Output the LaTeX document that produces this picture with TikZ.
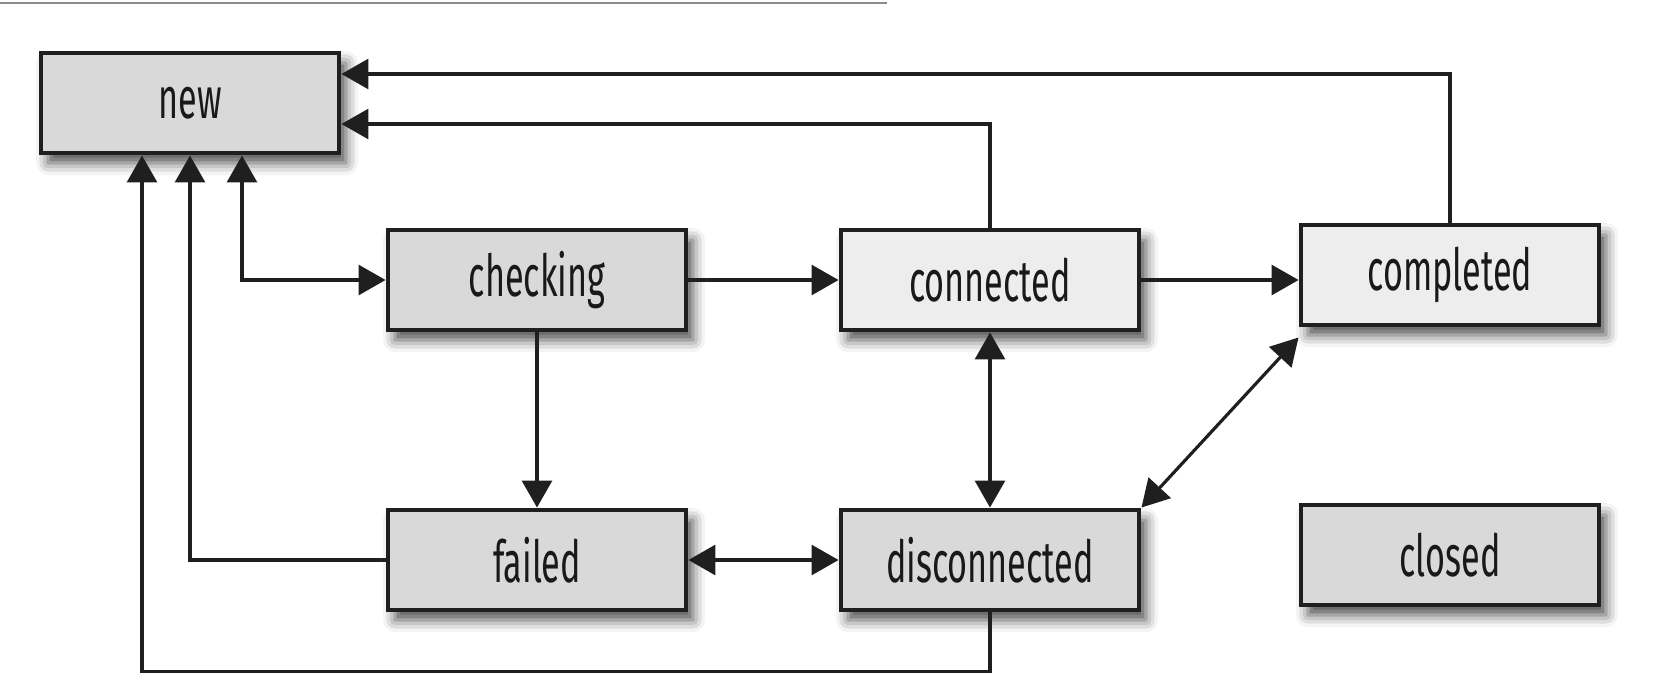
\documentclass[tikz,border=0pt]{standalone}
\usepackage{fontspec}
\setmainfont[FakeStretch=0.59]{Fira Sans}
\usetikzlibrary{arrows.meta,shadows.blur}
\begin{document}
\begin{tikzpicture}[
    state/.style={draw=black!88, line width=1.4pt, fill=#1, minimum width=2.98cm, minimum height=1cm,
        text=black!90, font=\fontsize{16.5}{20}\selectfont,
        blur shadow={shadow xshift=0.7mm, shadow yshift=-1mm, shadow blur radius=1.2mm, shadow opacity=70}},
    state/.default=black!15,
    link/.style={line width=0.9pt, draw=black!88, -{Triangle[length=2.7mm,width=3mm]}},
    both/.style={link, {Triangle[length=2.7mm,width=3mm]}-{Triangle[length=2.7mm,width=3mm]}}
]
    \useasboundingbox (0,0) rectangle (16.76,-6.81);
    \draw[black!45, line width=0.8pt] (0,-0.03) -- (8.87,-0.03);
    \node[state] (new) at (1.9,-1.03) {new};
    \node[state] (checking) at (5.37,-2.8) {checking};
    \node[state=black!7] (connected) at (9.9,-2.8) {connected};
    \node[state=black!7] (completed) at (14.5,-2.75) {completed};
    \node[state] (failed) at (5.37,-5.6) {failed};
    \node[state] (disconnected) at (9.9,-5.6) {disconnected};
    \node[state] (closed) at (14.5,-5.55) {closed};
    \draw[link] (completed.north) |- ([yshift=2.9mm]new.east);
    \draw[link] (connected.north) |- ([yshift=-2.1mm]new.east);
    \draw[both] ([xshift=5.2mm]new.south) |- (checking.west);
    \draw[link] (failed.west) -| (new.south);
    \draw[link] (disconnected.south) -- ++(0,-0.59) -| ([xshift=-4.8mm]new.south);
    \draw[link] (checking) -- (connected);
    \draw[link] (connected.east) -- (connected.east -| completed.west);
    \draw[link] (checking) -- (failed);
    \draw[both] (failed) -- (disconnected);
    \draw[both] (connected) -- (disconnected);
    \draw[both] ([yshift=-1mm]completed.south west) -- (disconnected.north east);
\end{tikzpicture}
\end{document}
